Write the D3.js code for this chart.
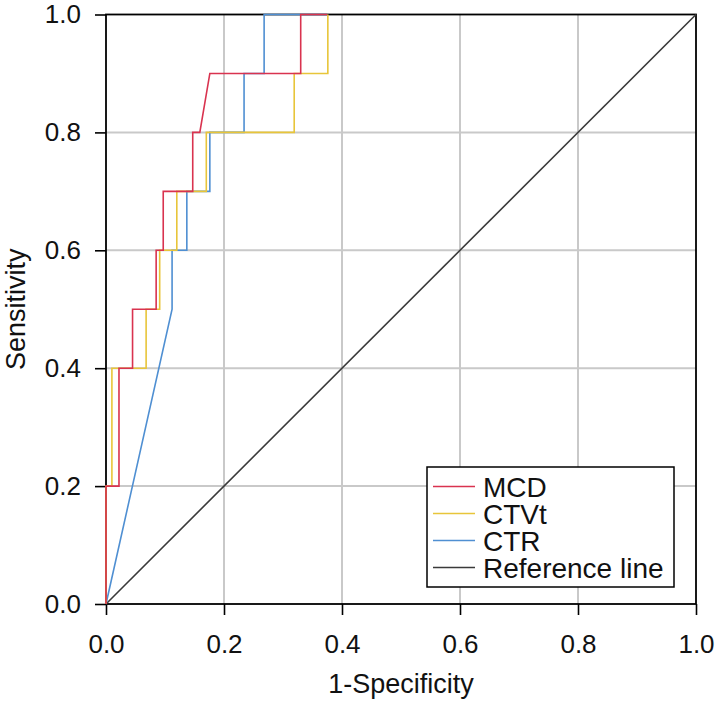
<!DOCTYPE html>
<html>
<head>
<meta charset="utf-8">
<script src="https://cdn.jsdelivr.net/npm/d3@7"></script>
<style>
  body { margin: 0; background: white; }
  text { font-family: "Liberation Sans", Arial, Helvetica, sans-serif; }
</style>
</head>
<body>
<div id="viz-container"></div>
<script>

// ROC points (1-specificity, sensitivity)
let mcdX  = [0, 0,   0.022, 0.022, 0.045, 0.045, 0.085, 0.085, 0.097, 0.097, 0.147, 0.147, 0.159, 0.176, 0.330, 0.330, 0.375];
let mcdY  = [0, 0.2, 0.2,   0.4,   0.4,   0.5,   0.5,   0.6,   0.6,   0.7,   0.7,   0.8,   0.8,   0.9,   0.9,   1.0,   1.0];

let ctvtX = [0, 0,   0.010, 0.010, 0.068, 0.068, 0.091, 0.091, 0.120, 0.120, 0.170, 0.170, 0.319, 0.319, 0.376, 0.376];
let ctvtY = [0, 0.2, 0.2,   0.4,   0.4,   0.5,   0.5,   0.6,   0.6,   0.7,   0.7,   0.8,   0.8,   0.9,   0.9,   1.0];

let ctrX  = [0, 0.112, 0.112, 0.137, 0.137, 0.176, 0.176, 0.234, 0.234, 0.268, 0.268, 0.375];
let ctrY  = [0, 0.5,   0.6,   0.6,   0.7,   0.7,   0.8,   0.8,   0.9,   0.9,   1.0,   1.0];

let refX = [0, 1];
let refY = [0, 1];

let seriesNames = ["MCD", "CTVt", "CTR", "Reference line"];
let seriesColors = ["#d9334f", "#e8c53a", "#4f8fd2", "#3a3a3a"];
let tickValues = [0, 0.2, 0.4, 0.6, 0.8, 1.0];
let gridValues = [0.2, 0.4, 0.6, 0.8];

let plotLeft = 106, plotTop = 14.5, w = 590, h = 589.5;

let viz = d3.select("#viz-container")
              .append("svg")
                .attr("width", 718)
                .attr("height", 704)
;

let x = d3.scaleLinear().domain([0, 1]).range([plotLeft, plotLeft + w]);
let y = d3.scaleLinear().domain([0, 1]).range([plotTop + h, plotTop]);

// grid
viz.selectAll(".vgrid").data(gridValues).enter().append("line")
    .attr("x1", d => x(d)).attr("x2", d => x(d))
    .attr("y1", y(0)).attr("y2", y(1))
    .attr("stroke", "#c9c9c9").attr("stroke-width", 2);
viz.selectAll(".hgrid").data(gridValues).enter().append("line")
    .attr("y1", d => y(d)).attr("y2", d => y(d))
    .attr("x1", x(0)).attr("x2", x(1))
    .attr("stroke", "#c9c9c9").attr("stroke-width", 2);

// axes
let xAxis = viz.append("g")
    .attr("transform", "translate(0," + y(0) + ")")
    .call(d3.axisBottom(x).tickValues(tickValues).tickFormat(d3.format(".1f")).tickSize(11).tickPadding(20));
let yAxis = viz.append("g")
    .attr("transform", "translate(" + x(0) + ",0)")
    .call(d3.axisLeft(y).tickValues(tickValues).tickFormat(d3.format(".1f")).tickSize(11).tickPadding(14));

[xAxis, yAxis].forEach(function(a){
  a.select(".domain").remove();
  a.selectAll("line").attr("stroke", "#000").attr("stroke-width", 1.6);
  a.selectAll("text").attr("font-size", 26).attr("fill", "#111")
    .style("font-family", '"Liberation Sans", Arial, sans-serif');
});

// frame
viz.append("rect")
    .attr("x", x(0)).attr("y", y(1))
    .attr("width", w).attr("height", h)
    .attr("fill", "none").attr("stroke", "#000").attr("stroke-width", 1.8);

function makeLine(xs, ys){
  return d3.line().x(d => x(d[0])).y(d => y(d[1]))(xs.map((v, i) => [v, ys[i]]));
}

let curves = [[mcdX, mcdY], [ctvtX, ctvtY], [ctrX, ctrY], [refX, refY]];

// reference line first, then the curves
viz.append("path")
    .attr("d", makeLine(refX, refY))
    .attr("fill", "none").attr("stroke", seriesColors[3]).attr("stroke-width", 1.6);

[2, 1, 0].forEach(function(i){
  viz.append("path")
    .attr("d", makeLine(curves[i][0], curves[i][1]))
    .attr("fill", "none")
    .attr("stroke", seriesColors[i])
    .attr("stroke-width", 1.6);
});

// axis titles
viz.append("text")
    .attr("x", x(0.5)).attr("y", 693)
    .attr("text-anchor", "middle").attr("font-size", 27).attr("fill", "#111")
    .text("1-Specificity");
viz.append("text")
    .attr("transform", "translate(25," + y(0.5) + ") rotate(-90)")
    .attr("text-anchor", "middle").attr("font-size", 27).attr("fill", "#111")
    .text("Sensitivity");

// legend
let legend = viz.append("g");
legend.append("rect")
    .attr("x", 427).attr("y", 467).attr("width", 247).attr("height", 120)
    .attr("fill", "white").attr("stroke", "#000").attr("stroke-width", 1.5);

let rows = legend.selectAll(".row").data(seriesNames).enter().append("g")
    .attr("transform", (d, i) => "translate(0," + (486.5 + i * 27) + ")");
rows.append("line")
    .attr("x1", 433).attr("x2", 475)
    .attr("stroke", (d, i) => seriesColors[i]).attr("stroke-width", 1.6);
rows.append("text")
    .attr("x", 483).attr("y", 10)
    .attr("font-size", 28).attr("fill", "#111")
    .text(d => d);

</script>
</body>
</html>
